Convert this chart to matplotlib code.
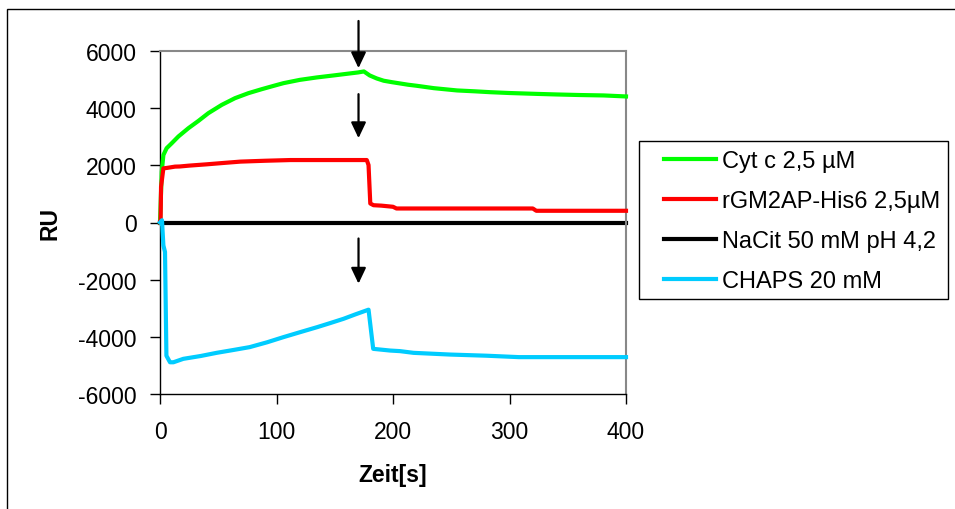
import numpy as np
import matplotlib.pyplot as plt
from matplotlib.patches import Rectangle

plt.rcParams['font.family'] = ['Liberation Sans', 'DejaVu Sans']
plt.rcParams['axes.unicode_minus'] = False

# Sensorgram traces (time in s, response in RU)
t_cyt = [0, 1.5, 2.9, 5.7, 10, 15.8, 24.4, 33, 41.5, 53, 64.4, 75.9, 87.4, 98.8, 106, 120,
         134.6, 149, 163, 170, 175, 180, 186, 192, 199, 206, 213, 220, 228, 235,
         245, 255, 270, 283, 300, 323, 340, 360, 381, 400]
ru_cyt = [0, 1780, 2360, 2600, 2770, 3010, 3300, 3555, 3825, 4115, 4350, 4525, 4665, 4795,
          4875, 4990, 5075, 5145, 5215, 5250, 5285,
          5145, 5040, 4960, 4910, 4865, 4820, 4785, 4740, 4700, 4660, 4620, 4590, 4560, 4530,
          4500, 4480, 4460, 4445, 4410]

t_rgm = [0, 0.5, 0.9, 2.9, 6, 12.9, 17, 25, 40, 55, 69, 90, 112, 140, 160, 177.5, 179, 180.5,
         183.3, 190, 200, 203, 260, 320, 323, 400]
ru_rgm = [0, 0, 1250, 1895, 1910, 1955, 1960, 1990, 2035, 2085, 2130, 2160, 2185, 2185, 2185,
          2185, 2010, 665, 605, 590, 550, 490, 490, 490, 410, 410]

t_nacit = [0, 400]
ru_nacit = [0, 0]

t_chaps = [0, 1.7, 2.9, 4.3, 5.5, 8.6, 11.5, 20, 35, 48.6, 63, 77, 92, 106, 120, 135, 146, 157.5,
           168, 179, 183, 197.6, 206, 217.6, 249, 280, 308, 400]
ru_chaps = [0, 80, -800, -1030, -4660, -4890, -4890, -4770, -4670, -4560, -4460, -4360, -4190,
            -4010, -3840, -3660, -3520, -3370, -3210, -3050, -4420, -4480, -4500, -4560, -4620,
            -4660, -4710, -4710]

series_names = ['Cyt c 2,5 µM', 'rGM2AP-His6 2,5µM', 'NaCit 50 mM pH 4,2', 'CHAPS 20 mM']
series_colors = ['#00FF00', '#FF0000', '#000000', '#00CCFF']

# injection-end markers: (time, tail RU, tip RU)
arrow_t = [170.4, 170.4, 170.4]
arrow_tail = [7050, 4490, -560]
arrow_tip = [5400, 2950, -2140]

x_ticks = [0, 100, 200, 300, 400]
y_ticks = [-6000, -4000, -2000, 0, 2000, 4000, 6000]

fig = plt.figure(figsize=(9.55, 5.10), dpi=100)
ax = fig.add_axes([160 / 955, 1 - 395 / 510, 466 / 955, 343 / 510])

traces = [(t_cyt, ru_cyt), (t_rgm, ru_rgm), (t_nacit, ru_nacit), (t_chaps, ru_chaps)]
lines = [None] * 4
for i in [2, 0, 1, 3]:
    t, ru = traces[i]
    lines[i], = ax.plot(t, ru, color=series_colors[i], lw=3, solid_joinstyle='round',
                        label=series_names[i], clip_on=False, zorder=3 if i != 2 else 2)

for at, a0, a1 in zip(arrow_t, arrow_tail, arrow_tip):
    ax.annotate('', xy=(at, a1), xytext=(at, a0), annotation_clip=False,
                arrowprops=dict(arrowstyle='-|>,head_length=0.95,head_width=0.45',
                                color='black', lw=1.6, shrinkA=0, shrinkB=0))

ax.set_xlim(0, 400)
ax.set_ylim(-6000, 6000)
ax.set_xticks(x_ticks)
ax.set_yticks(y_ticks)
ax.tick_params(direction='out', length=7, width=1, labelsize=16.5)
ax.tick_params(axis='y', pad=10)
ax.tick_params(axis='x', pad=12)
for s in ['top', 'right']:
    ax.spines[s].set_color('#888888')
    ax.spines[s].set_linewidth(1.5)
for s in ['left', 'bottom']:
    ax.spines[s].set_linewidth(1)

ax.set_xlabel('Zeit[s]', fontsize=16.5, fontweight='bold', labelpad=14)
ax.set_ylabel('RU', fontsize=16.5, fontweight='bold', labelpad=12)

leg = fig.legend(handles=lines, labels=series_names, loc='upper left',
                 bbox_to_anchor=(664 / 955, 1 - 151 / 510), borderaxespad=0, borderpad=0,
                 fontsize=17, frameon=False, handlelength=2.2, handletextpad=0.25,
                 labelspacing=0.76)

# legend box and outer chart frame
fig.patches.append(Rectangle((639 / 955, 1 - 300 / 510), 309 / 955, 158 / 510,
                             transform=fig.transFigure, fill=False, edgecolor='black', lw=1))
fig.patches.append(Rectangle((7 / 955, -0.5), 1.2, 1.5 - 10 / 510, transform=fig.transFigure,
                             fill=False, edgecolor='black', lw=1, zorder=0))

fig.savefig('out.png', dpi=100)
